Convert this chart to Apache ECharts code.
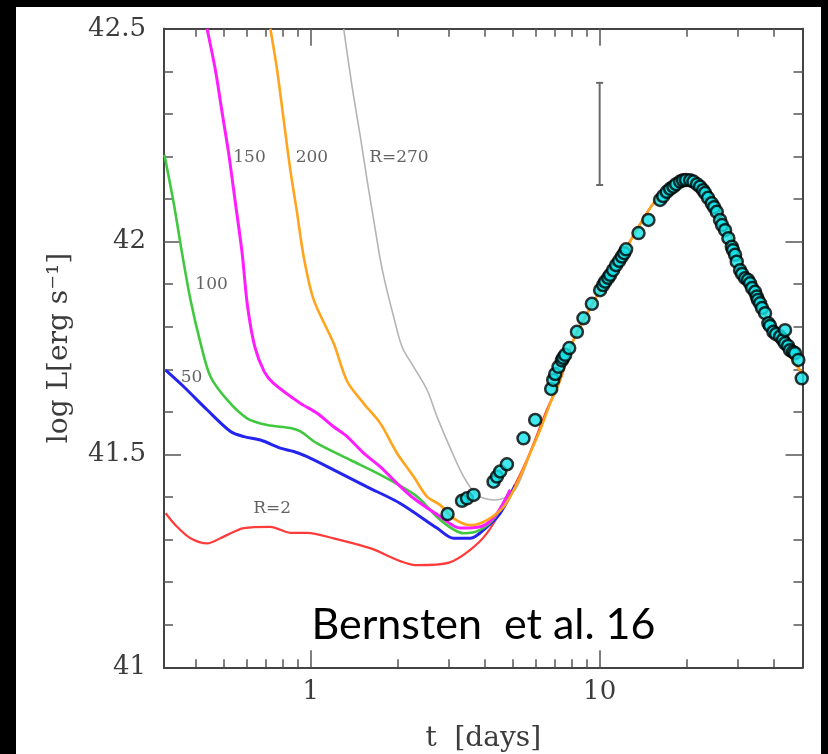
<!DOCTYPE html>
<html>
<head>
<meta charset="utf-8">
<script src="https://cdn.jsdelivr.net/npm/echarts@6/dist/echarts.min.js"></script>
<style>
html, body { margin: 0; padding: 0; background: #000; width: 828px; height: 754px; overflow: hidden; }
#chart { position: absolute; left: 16px; top: 7px; width: 805px; height: 747px; background: #fff; }
</style>
</head>
<body>
<div id="chart"></div>
<script>
// model light curves (t in days, log L)
var r2T = [0.314, 0.344, 0.383, 0.437, 0.499, 0.586, 0.724, 0.849, 0.970, 1.199, 1.601, 2.336, 3.009, 3.564, 4.072, 4.774, 5.599, 6.567];
var r2L = [41.362, 41.330, 41.303, 41.291, 41.307, 41.327, 41.330, 41.316, 41.316, 41.303, 41.280, 41.240, 41.246, 41.276, 41.315, 41.393, 41.487, 41.605];

var r50T = [0.314, 0.363, 0.437, 0.527, 0.586, 0.669, 0.784, 0.872, 0.970, 1.199, 1.565, 2.040, 2.734, 3.120, 3.564, 4.072, 4.526, 5.10];
var r50L = [41.698, 41.659, 41.605, 41.554, 41.542, 41.534, 41.515, 41.507, 41.495, 41.464, 41.424, 41.385, 41.327, 41.303, 41.303, 41.330, 41.362, 41.428];

var r100T = [0.311, 0.335, 0.358, 0.383, 0.415, 0.449, 0.513, 0.601, 0.706, 0.849, 0.920, 1.051, 1.370, 1.786, 2.331, 2.806, 3.379, 3.859, 4.348, 4.90];
var r100L = [42.204, 42.090, 41.973, 41.863, 41.761, 41.683, 41.628, 41.585, 41.569, 41.562, 41.554, 41.526, 41.487, 41.448, 41.401, 41.346, 41.315, 41.323, 41.353, 41.417];

var r150T = [0.437, 0.467, 0.493, 0.519, 0.548, 0.578, 0.603, 0.640, 0.690, 0.743, 0.920, 1.051, 1.199, 1.335, 1.523, 1.740, 1.988, 2.269, 2.806, 3.291, 3.859, 4.348, 4.90];
var r150L = [42.500, 42.403, 42.302, 42.208, 42.090, 41.973, 41.850, 41.752, 41.694, 41.667, 41.620, 41.597, 41.565, 41.542, 41.503, 41.471, 41.432, 41.397, 41.354, 41.327, 41.330, 41.356, 41.417];

var r200T = [0.724, 0.764, 0.805, 0.849, 0.896, 0.944, 1.023, 1.199, 1.335, 1.523, 1.740, 1.988, 2.269, 2.524, 2.806, 3.120, 3.564, 4.072, 4.647, 5.171, 5.747, 6.224, 6.741];
var r200L = [42.500, 42.403, 42.286, 42.168, 42.067, 41.965, 41.863, 41.761, 41.672, 41.620, 41.573, 41.503, 41.448, 41.401, 41.381, 41.350, 41.334, 41.346, 41.377, 41.432, 41.503, 41.558, 41.620];

var r270T = [1.299, 1.389, 1.483, 1.565, 1.650, 1.740, 1.810, 1.934, 2.068, 2.269, 2.524, 2.734, 3.039, 3.379, 3.759, 4.291, 4.774, 5.171, 5.747];
var r270L = [42.500, 42.364, 42.247, 42.145, 42.051, 41.957, 41.902, 41.824, 41.753, 41.706, 41.652, 41.589, 41.515, 41.448, 41.405, 41.393, 41.401, 41.424, 41.503];

// shared part after the curves merge
var tailT = [7.30, 8.118, 10.04, 12.42, 15.36, 18.50, 20.56, 22.87, 25.44, 28.29, 30.64, 33.18, 37.89, 43.25, 49.41, 50.4];
var tailL = [41.675, 41.769, 41.886, 41.988, 42.090, 42.141, 42.149, 42.137, 42.090, 42.020, 41.957, 41.902, 41.824, 41.753, 41.698, 41.689];

// observed points
var obsT = [2.974, 3.337, 3.472, 3.659, 4.291, 4.409, 4.526, 4.774, 5.448, 5.981, 6.795, 6.905, 7.015, 7.202, 7.40, 7.476, 7.597, 7.845,
  8.340, 8.787, 9.398, 10.04, 10.28, 10.45, 10.70, 10.87, 11.13, 11.40, 11.68, 11.94, 12.16, 12.35, 13.63, 14.75, 16.19, 16.59, 17.08,
  17.54, 18.01, 18.40, 18.99, 19.45, 19.92, 20.57, 21.12, 21.74, 22.27, 22.81, 23.18, 23.74, 24.44, 24.91, 25.44, 26.12, 26.54, 27.19,
  27.91, 28.68, 28.97, 29.44, 29.84, 30.64, 31.13, 31.89, 32.65, 33.18, 33.71, 34.53, 34.99, 35.35, 35.93, 36.50, 37.39, 38.39, 38.90,
  39.95, 40.80, 42.14, 43.14, 43.85, 43.85, 44.91, 45.63, 46.73, 47.49, 48.75, 50.1];
var obsL = [41.360, 41.391, 41.397, 41.405, 41.436, 41.448, 41.460, 41.477, 41.538, 41.581, 41.654, 41.675, 41.689, 41.706, 41.721, 41.727, 41.734, 41.750,
  41.788, 41.820, 41.854, 41.886, 41.898, 41.906, 41.915, 41.922, 41.933, 41.945, 41.955, 41.965, 41.973, 41.982, 42.020, 42.051, 42.098, 42.107, 42.117,
  42.124, 42.129, 42.135, 42.141, 42.144, 42.145, 42.144, 42.141, 42.135, 42.129, 42.121, 42.114, 42.103, 42.090, 42.081, 42.070, 42.051, 42.039, 42.027,
  42.008, 41.988, 41.980, 41.969, 41.953, 41.933, 41.924, 41.914, 41.910, 41.902, 41.891, 41.882, 41.871, 41.863, 41.855, 41.844, 41.832, 41.808, 41.802,
  41.788, 41.783, 41.777, 41.769, 41.792, 41.761, 41.755, 41.745, 41.741, 41.738, 41.722, 41.679];

// typical error bar
var errT = [10, 10];
var errL = [42.133, 42.373];

// curve labels
var labelText = ['150', '200', 'R=270', '100', '50', 'R=2'];
var labelT = [0.613, 1.008, 2.017, 0.453, 0.386, 0.734];
var labelL = [42.198, 42.198, 42.198, 41.900, 41.680, 41.374];

// ticks
var xMinorTicks = [0.4, 0.5, 0.6, 0.7, 0.8, 0.9, 2, 3, 4, 5, 6, 7, 8, 9, 20, 30, 40];
var xMajorTicks = [1, 10];
var yMinorTicks = [41.1, 41.2, 41.3, 41.4, 41.6, 41.7, 41.8, 41.9, 42.1, 42.2, 42.3, 42.4];
var yMajorTicks = [41.5, 42];
var yLabels = [41, 41.5, 42, 42.5];

function pairs(t, l) {
  return t.map(function (v, i) { return [v, l[i]]; });
}

var serif = 'DejaVu Serif';
var textCol = '#3c3c3c';
var frame = { show: true, lineStyle: { color: '#444', width: 2 } };
var tickStyle = { color: '#555', width: 1.5 };

function xAx(pos, ticks, len, extra) {
  return Object.assign({
    type: 'log', logBase: 10, min: 0.31, max: 50.4, position: pos,
    axisLine: frame,
    axisTick: { show: true, inside: true, length: len, customValues: ticks, lineStyle: tickStyle },
    axisLabel: { show: false },
    splitLine: { show: false }
  }, extra || {});
}
function yAx(pos, ticks, len, extra) {
  return Object.assign({
    type: 'value', min: 41, max: 42.5, position: pos,
    axisLine: frame,
    axisTick: { show: true, inside: true, length: len, customValues: ticks, lineStyle: tickStyle },
    axisLabel: { show: false },
    splitLine: { show: false }
  }, extra || {});
}

function curve(t, l, color, width) {
  return {
    type: 'line', data: pairs(t, l), showSymbol: false, symbol: 'none', smooth: 0.3,
    lineStyle: { color: color, width: width }, z: 3
  };
}

var chart = echarts.init(document.getElementById('chart'));
var option = {
  animation: false,
  grid: { left: 148, right: 18.5, top: 21.8, bottom: 86.7, outerBoundsMode: 'none', containLabel: false },
  xAxis: [
    xAx('bottom', xMinorTicks, 8, {
      axisLabel: {
        show: true, customValues: xMajorTicks, formatter: function (v) { return String(v); },
        fontFamily: serif, fontSize: 26, color: textCol, margin: 12
      },
      name: 't  [days]', nameLocation: 'middle', nameGap: 57,
      nameTextStyle: { fontFamily: serif, fontSize: 28, color: textCol }
    }),
    xAx('bottom', xMajorTicks, 17),
    xAx('top', xMinorTicks, 8),
    xAx('top', xMajorTicks, 17)
  ],
  yAxis: [
    yAx('left', yMinorTicks, 9, {
      axisLabel: {
        show: true, customValues: yLabels, formatter: function (v) { return String(v); },
        fontFamily: serif, fontSize: 26, color: textCol, margin: 18
      },
      name: 'log L[erg s\u207B\u00B9]', nameLocation: 'middle', nameGap: 90, nameRotate: 90,
      nameTextStyle: { fontFamily: serif, fontSize: 28, color: textCol }
    }),
    yAx('left', yMajorTicks, 17),
    yAx('right', yMinorTicks, 9),
    yAx('right', yMajorTicks, 17)
  ],
  series: [
    curve(r270T, r270L, '#b4b4b4', 1.6),
    curve(r2T.concat(tailT), r2L.concat(tailL), '#ff3b3b', 2.2),
    curve(r50T, r50L, '#2424f0', 3),
    curve(r100T, r100L, '#40c840', 2.6),
    curve(r150T, r150L, '#ff1cff', 3),
    curve(r200T.concat(tailT), r200L.concat(tailL), '#ffa41c', 2.6),
    {
      type: 'line', data: pairs(errT, errL), symbol: 'rect', symbolSize: [7, 2], showSymbol: true,
      lineStyle: { color: '#6a6a6a', width: 2 }, itemStyle: { color: '#6a6a6a' }, z: 3
    },
    {
      type: 'scatter', data: pairs(obsT, obsL), symbol: 'circle', symbolSize: 12, clip: false,
      itemStyle: { color: '#12e4ea', borderColor: '#000', borderWidth: 2.5 }, z: 5
    },
    {
      type: 'scatter', symbolSize: 1, itemStyle: { color: 'rgba(0,0,0,0)' },
      data: labelT.map(function (t, i) { return { name: labelText[i], value: [t, labelL[i]] }; }),
      label: {
        show: true, position: 'inside', formatter: function (p) { return p.name; },
        fontFamily: serif, fontSize: 17, color: textCol
      }, z: 4
    }
  ],
  graphic: [{
    type: 'text', x: 295.5, y: 617.8,
    style: { text: 'Bernsten  et al. 16', font: '43px Lato', fill: '#000', verticalAlign: 'middle' },
    z: 10
  }]
};
chart.setOption(option);
</script>
</body>
</html>
